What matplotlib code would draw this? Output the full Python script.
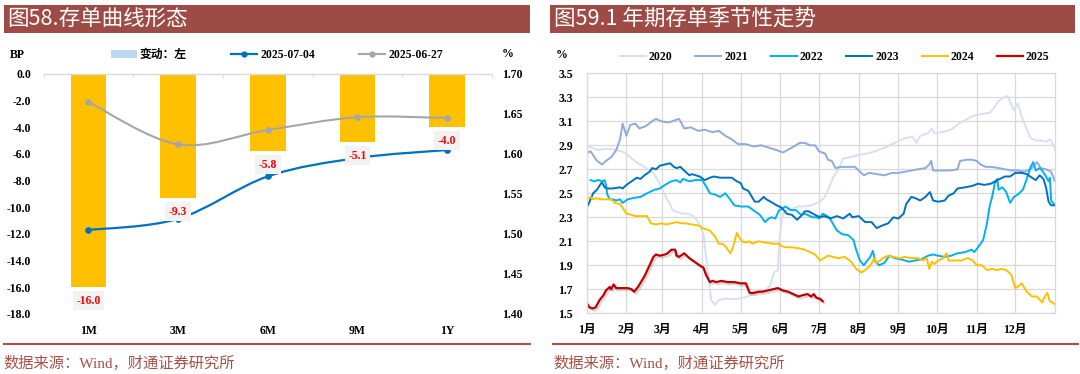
import matplotlib.pyplot as plt
from matplotlib.path import Path
from matplotlib.patches import PathPatch, Rectangle, Patch
from matplotlib.lines import Line2D
import matplotlib.patheffects as pe

plt.rcParams['font.family'] = ['Liberation Serif', 'Noto Sans CJK SC']

# ---- left panel: NCD curve ----
tenors = ['1M', '3M', '6M', '9M', '1Y']
change_bp = [-16.0, -9.3, -5.8, -5.1, -4.0]
rate_0704 = [1.505, 1.519, 1.572, 1.595, 1.605]
rate_0627 = [1.665, 1.612, 1.630, 1.646, 1.645]

# ---- right panel: 1Y NCD seasonality (day of year, %) ----
month_labels = ['1月', '2月', '3月', '4月', '5月', '6月', '7月', '8月', '9月', '10月', '11月', '12月']
month_starts = [0, 31, 59, 90, 120, 151, 181, 212, 243, 273, 304, 334]

days_2020 = [0, 4, 9, 14, 19, 23, 27, 31, 35, 40, 45, 49, 52, 56, 60, 63, 65, 67, 71, 75, 79, 83, 87, 91, 93, 95, 97,
             100, 103, 107, 112, 117, 123, 127, 133, 139, 143, 146, 149, 150, 152, 153, 156, 160, 165, 170, 175, 180,
             185, 189, 192, 196, 200, 205, 212, 218, 225, 232, 240, 248, 254, 257, 260, 266, 269, 271, 277, 284, 290,
             295, 300, 307, 314, 318, 321, 325, 328, 330, 333, 336, 339, 343, 346, 350, 354, 358, 361, 363, 365]
vals_2020 = [2.90, 2.88, 2.86, 2.87, 2.87, 2.86, 2.85, 2.83, 2.79, 2.75, 2.72, 2.69, 2.67, 2.60, 2.51, 2.44, 2.41, 2.36,
             2.34, 2.33, 2.33, 2.31, 2.26, 2.16, 1.97, 1.80, 1.61, 1.57, 1.61, 1.62, 1.62, 1.62, 1.63, 1.65, 1.67, 1.69,
             1.73, 1.84, 1.86, 2.08, 2.28, 2.33, 2.36, 2.37, 2.39, 2.39, 2.40, 2.42, 2.46, 2.55, 2.63, 2.70, 2.79, 2.80,
             2.82, 2.83, 2.85, 2.88, 2.92, 2.96, 2.97, 2.92, 2.98, 3.00, 3.04, 3.00, 3.01, 3.03, 3.08, 3.11, 3.14, 3.16,
             3.17, 3.22, 3.27, 3.30, 3.31, 3.26, 3.19, 3.25, 3.14, 3.03, 2.96, 2.94, 2.94, 2.93, 2.95, 2.92, 2.86]

days_2021 = [1, 3, 8, 12, 15, 19, 23, 26, 28, 31, 34, 38, 41, 46, 51, 54, 58, 64, 69, 72, 76, 81, 87, 92, 98, 103, 108,
             113, 118, 124, 130, 136, 142, 148, 153, 158, 163, 166, 170, 174, 178, 181, 186, 188, 191, 194, 198, 204,
             209, 212, 216, 220, 226, 232, 238, 243, 248, 253, 258, 264, 267, 268.5, 270, 276, 283, 289, 291, 296, 300,
             304, 307, 311, 316, 321, 326, 331, 336, 341, 346, 351, 354, 358, 362, 365]
vals_2021 = [2.84, 2.85, 2.77, 2.74, 2.77, 2.80, 2.86, 2.95, 3.08, 2.98, 3.07, 3.08, 3.04, 3.06, 3.10, 3.12, 3.10, 3.09,
             3.11, 3.12, 3.04, 3.05, 3.02, 3.03, 3.01, 3.02, 2.98, 2.95, 2.91, 2.91, 2.89, 2.90, 2.88, 2.86, 2.84, 2.87,
             2.90, 2.92, 2.92, 2.90, 2.90, 2.85, 2.83, 2.78, 2.77, 2.71, 2.72, 2.72, 2.72, 2.69, 2.65, 2.67, 2.66, 2.65,
             2.67, 2.67, 2.68, 2.69, 2.70, 2.71, 2.74, 2.77, 2.69, 2.69, 2.69, 2.70, 2.77, 2.78, 2.78, 2.77, 2.74, 2.72,
             2.72, 2.71, 2.70, 2.69, 2.69, 2.68, 2.70, 2.76, 2.71, 2.70, 2.68, 2.60]

days_2022 = [3, 6, 9, 12, 14, 15, 16, 18, 20, 23, 26, 28, 32, 36, 42, 47, 53, 57, 61, 66, 70, 73, 75, 80, 85, 90, 93, 96,
             100, 104, 108, 111, 115, 120, 126, 131, 135, 139, 142, 144, 147, 150, 152, 155, 159, 163, 167, 170, 174,
             176, 179, 181, 184, 189, 195, 199, 204, 208, 210, 213, 216, 218, 221, 223, 225, 228, 232, 236, 240, 245,
             251, 256, 261, 266, 270, 274, 279, 284, 289, 295, 300, 302, 305, 309, 312, 314, 316, 318, 320, 321, 324,
             327, 330, 333, 336, 340, 343, 346, 348, 350, 353, 355, 358, 360, 361, 362, 365]
vals_2022 = [2.61, 2.60, 2.61, 2.60, 2.61, 2.57, 2.49, 2.45, 2.45, 2.44, 2.45, 2.42, 2.45, 2.46, 2.47, 2.50, 2.53, 2.54,
             2.57, 2.60, 2.61, 2.59, 2.62, 2.60, 2.61, 2.61, 2.56, 2.50, 2.49, 2.47, 2.50, 2.46, 2.40, 2.39, 2.39, 2.35,
             2.32, 2.26, 2.29, 2.30, 2.29, 2.36, 2.37, 2.39, 2.36, 2.36, 2.32, 2.33, 2.31, 2.30, 2.30, 2.29, 2.33, 2.30,
             2.19, 2.16, 2.15, 2.11, 2.03, 1.94, 1.90, 1.93, 1.97, 2.02, 1.93, 1.90, 1.92, 1.98, 1.96, 1.95, 1.93, 1.94,
             1.95, 1.98, 1.99, 1.98, 1.97, 1.98, 2.00, 2.01, 2.03, 2.01, 2.05, 2.11, 2.25, 2.39, 2.47, 2.58, 2.62, 2.53,
             2.55, 2.51, 2.42, 2.47, 2.49, 2.53, 2.62, 2.72, 2.76, 2.69, 2.71, 2.69, 2.64, 2.60, 2.63, 2.44, 2.40]

days_2023 = [1, 3, 5, 8, 11, 12, 14, 16, 20, 26, 28, 31, 35, 39, 42, 45, 49, 51, 54, 57, 61, 65, 68, 70, 73, 77, 80, 82,
             88, 92, 96, 99, 104, 110, 113, 117, 120, 122, 126, 131, 134, 138, 140, 145, 148, 152, 156, 160, 164, 167,
             170, 173, 178, 182, 185, 190, 195, 200, 205, 207, 212, 217, 222, 226, 230, 235, 239, 243, 247, 249, 253,
             256, 260, 264, 267.5, 270, 274, 279, 282, 286, 289, 295, 300, 305, 310, 315, 320, 326, 330, 334, 339, 343,
             347, 350, 353, 356, 358, 360, 362, 365]
vals_2023 = [2.40, 2.45, 2.50, 2.53, 2.58, 2.59, 2.55, 2.54, 2.54, 2.55, 2.54, 2.57, 2.60, 2.63, 2.62, 2.65, 2.68, 2.71,
             2.70, 2.73, 2.74, 2.75, 2.72, 2.71, 2.72, 2.68, 2.65, 2.66, 2.64, 2.61, 2.63, 2.64, 2.63, 2.63, 2.63, 2.60,
             2.585, 2.54, 2.52, 2.43, 2.43, 2.47, 2.45, 2.42, 2.40, 2.38, 2.33, 2.32, 2.28, 2.31, 2.35, 2.35, 2.32, 2.30,
             2.31, 2.29, 2.31, 2.29, 2.33, 2.30, 2.31, 2.26, 2.26, 2.21, 2.23, 2.25, 2.30, 2.29, 2.33, 2.41, 2.47, 2.46,
             2.44, 2.47, 2.51, 2.44, 2.43, 2.44, 2.48, 2.50, 2.54, 2.55, 2.56, 2.58, 2.57, 2.58, 2.61, 2.64, 2.64, 2.67,
             2.67, 2.66, 2.63, 2.61, 2.65, 2.62, 2.55, 2.43, 2.40, 2.40]

days_2024 = [0, 3, 5, 7, 11, 15, 19, 22, 26, 28, 31, 35, 38, 42, 47, 50, 54, 58, 62, 66, 70, 74, 77, 82, 88, 90, 93, 96,
             100, 103, 106, 108, 112, 114, 117, 119, 121, 124, 127, 129, 134, 139, 145, 150, 152, 155, 160, 166, 170,
             174, 178, 182, 185, 188, 192, 196, 201, 206, 210, 214, 217, 221, 223, 224, 226, 231, 235, 239, 244, 248,
             253, 258, 262, 265, 267, 269, 271, 274, 278, 280.5, 282, 286, 292, 297, 301, 304, 308, 312, 316, 320, 323,
             327, 331, 334, 336, 339, 343, 347, 351, 355, 357, 359, 361, 363, 365]
vals_2024 = [2.45, 2.47, 2.45, 2.46, 2.45, 2.45, 2.45, 2.42, 2.41, 2.38, 2.33, 2.32, 2.31, 2.31, 2.31, 2.25, 2.24, 2.25,
             2.24, 2.25, 2.26, 2.25, 2.25, 2.24, 2.23, 2.21, 2.20, 2.19, 2.14, 2.08, 2.08, 2.06, 2.00, 2.05, 2.17, 2.13,
             2.10, 2.09, 2.10, 2.08, 2.10, 2.09, 2.08, 2.08, 2.06, 2.05, 2.05, 2.04, 2.03, 2.01, 1.99, 1.94, 1.96, 1.98,
             1.97, 1.96, 1.97, 1.93, 1.87, 1.84, 1.86, 1.90, 1.93, 1.96, 1.92, 1.96, 1.98, 1.97, 1.96, 1.97, 1.96, 1.96,
             1.94, 1.96, 1.87, 1.93, 1.91, 1.94, 1.96, 2.00, 1.94, 1.94, 1.94, 1.96, 1.94, 1.90, 1.90, 1.86, 1.87, 1.86,
             1.87, 1.86, 1.82, 1.71, 1.72, 1.75, 1.68, 1.64, 1.64, 1.59, 1.64, 1.67, 1.60, 1.59, 1.575]

days_2025 = [1, 2, 5, 7, 10, 13, 15, 18, 19, 21, 23, 27, 32, 35, 37, 40, 44, 46, 49, 52, 54, 57, 61, 63, 66, 69, 70, 72,
             76, 80, 84, 88, 91, 93, 96, 98, 101, 105, 110, 115, 120, 124, 127, 130, 134, 137, 141, 145, 149, 153, 157,
             161, 165, 168, 172, 175, 177, 179, 182, 184]
vals_2025 = [1.57, 1.55, 1.54, 1.55, 1.61, 1.65, 1.69, 1.72, 1.70, 1.74, 1.71, 1.71, 1.71, 1.70, 1.68, 1.72, 1.79, 1.83,
             1.90, 1.97, 1.99, 1.98, 1.99, 2.00, 2.03, 2.03, 1.98, 1.97, 2.00, 1.96, 1.93, 1.90, 1.88, 1.82, 1.76, 1.77,
             1.76, 1.77, 1.76, 1.76, 1.75, 1.75, 1.67, 1.67, 1.68, 1.68, 1.69, 1.70, 1.71, 1.69, 1.68, 1.66, 1.64, 1.65,
             1.66, 1.64, 1.66, 1.63, 1.62, 1.60]

BAR_RED = '#9E4B45'
SRC_RED = '#A65149'
GRID = '#D9D9D9'
W, H = 1080, 374


def fx(px):
    return px / W


def fy(py):
    return 1 - py / H


def smooth_path(xs, ys):
    # excel style smoothed line: catmull-rom turned into cubic beziers
    pts = list(zip(xs, ys))
    verts = [pts[0]]
    codes = [Path.MOVETO]
    for i in range(len(pts) - 1):
        p0 = pts[i - 1] if i > 0 else pts[i]
        p1 = pts[i]
        p2 = pts[i + 1]
        p3 = pts[i + 2] if i + 2 < len(pts) else p2
        c1 = (p1[0] + (p2[0] - p0[0]) / 6, p1[1] + (p2[1] - p0[1]) / 6)
        c2 = (p2[0] - (p3[0] - p1[0]) / 6, p2[1] - (p3[1] - p1[1]) / 6)
        verts += [c1, c2, p2]
        codes += [Path.CURVE4] * 3
    return Path(verts, codes)


def draw_header(fig, x0, x1, title):
    fig.add_artist(Rectangle((fx(x0), fy(33)), fx(x1 - x0), 28 / H, transform=fig.transFigure,
                             fc=BAR_RED, ec='none'))
    fig.text(fx(x0 + 4), fy(19), title, color='white', fontsize=15.5, va='center',
             family=['Noto Sans CJK SC'])


def draw_footer(fig, x0, x1):
    fig.add_artist(Line2D([fx(x0), fx(x1)], [fy(344), fy(344)], transform=fig.transFigure,
                          color=SRC_RED, lw=1.5))
    fig.text(fx(x0), fy(363), '数据来源：Wind，财通证券研究所', color=SRC_RED, fontsize=11, va='center')


def draw_curve_panel(fig):
    ax = fig.add_axes([fx(43.6), fy(314), fx(448.4), 240 / H])
    x = list(range(len(tenors)))
    ax.bar(x, change_bp, width=0.4, color='#FFC000', zorder=2)
    ax.set_xlim(-0.5, len(tenors) - 0.5)
    ax.set_ylim(-18, 0)
    ax.set_yticks(list(range(-18, 1, 2)))
    ax.set_yticklabels(['%.1f' % v for v in range(-18, 1, 2)])
    ax.set_xticks(x)
    ax.set_xticklabels(tenors)
    ax.set_xticks([i - 0.5 for i in range(len(tenors) + 1)], minor=True)
    for s in ['left', 'right', 'bottom']:
        ax.spines[s].set_visible(False)
    ax.spines['top'].set_color(GRID)
    ax.spines['top'].set_linewidth(1.0)
    ax.tick_params(axis='x', which='major', length=0, pad=8, labelsize=8.5)
    ax.tick_params(axis='x', which='minor', top=True, bottom=False, direction='in', length=3, color=GRID)
    ax.tick_params(axis='y', length=0, pad=9, labelsize=8.5)
    for lab in ax.get_xticklabels() + ax.get_yticklabels():
        lab.set_fontweight('bold')

    ax2 = ax.twinx()
    ax2.set_ylim(1.40, 1.70)
    rticks = [1.40, 1.45, 1.50, 1.55, 1.60, 1.65, 1.70]
    ax2.set_yticks(rticks)
    ax2.set_yticklabels(['%.2f' % v for v in rticks])
    ax2.tick_params(axis='y', length=0, pad=7, labelsize=8.5)
    for lab in ax2.get_yticklabels():
        lab.set_fontweight('bold')
    for s in ax2.spines.values():
        s.set_visible(False)

    ax2.add_patch(PathPatch(smooth_path(x, rate_0627), fill=False, ec='#A6A6A6', lw=1.5))
    ax2.plot(x, rate_0627, 'o', color='#A6A6A6', ms=3.8)
    ax2.add_patch(PathPatch(smooth_path(x, rate_0704), fill=False, ec='#0070C0', lw=1.6))
    ax2.plot(x, rate_0704, 'o', color='#0070C0', ms=3.8)

    for i, v in enumerate(change_bp):
        ax2.annotate('%.1f' % v, xy=(i, v), xycoords=ax.transData, xytext=(0, -9.8), textcoords='offset points',
                     ha='center', va='center', color='#FF0000', fontsize=8.5, fontweight='bold',
                     bbox=dict(boxstyle='square,pad=0.3', fc='#F2F2F2', ec='none'))

    handles = [Patch(fc='#BDD7EE', ec='none'),
               Line2D([], [], color='#0070C0', lw=1.6, marker='o', ms=3.5),
               Line2D([], [], color='#A6A6A6', lw=1.5, marker='o', ms=3.5)]
    fig.legend(handles, ['变动：左', '2025-07-04', '2025-06-27'], loc='center left',
               bbox_to_anchor=(fx(111), fy(55)), ncol=3, frameon=False, borderpad=0, borderaxespad=0,
               handlelength=2.2, handletextpad=0.25, columnspacing=3.75, prop={'weight': 'bold', 'size': 8.5})
    fig.text(fx(10), fy(55), 'BP', fontsize=8.5, fontweight='bold', va='center')
    fig.text(fx(502), fy(54), '%', fontsize=8.5, fontweight='bold', va='center')


def draw_seasonal_panel(fig):
    bx = fig.add_axes([fx(586.7), fy(313.3), fx(468.3), 240 / H])
    series = [(days_2020, vals_2020, '#D6E0F2', '2020'),
              (days_2021, vals_2021, '#8FAADC', '2021'),
              (days_2022, vals_2022, '#00B0F0', '2022'),
              (days_2023, vals_2023, '#0070C0', '2023'),
              (days_2024, vals_2024, '#FFC000', '2024')]
    for days, vals, color, label in series:
        bx.plot(days, vals, color=color, lw=1.4, label=label)
    bx.plot(days_2025, vals_2025, color='#C00000', lw=1.6,
            path_effects=[pe.SimpleLineShadow(offset=(1.2, -1.5), shadow_color='#404040', alpha=0.2), pe.Normal()])

    bx.set_xlim(0, 365)
    bx.set_ylim(1.5, 3.5)
    bx.set_xticks(month_starts)
    bx.set_xticklabels(month_labels)
    yt = [1.5 + 0.2 * i for i in range(11)]
    bx.set_yticks(yt)
    bx.set_yticklabels(['%.1f' % v for v in yt])
    bx.grid(True, color=GRID, lw=0.9)
    bx.set_axisbelow(True)
    for s in bx.spines.values():
        s.set_color(GRID)
        s.set_linewidth(0.9)
    bx.tick_params(axis='x', length=0, pad=8, labelsize=8.5)
    bx.tick_params(axis='y', length=0, pad=10, labelsize=8.5)
    for lab in bx.get_xticklabels() + bx.get_yticklabels():
        lab.set_fontweight('bold')

    handles, labels = bx.get_legend_handles_labels()
    handles.append(Line2D([], [], color='#C00000', lw=1.6))
    labels.append('2025')
    fig.legend(handles, labels, loc='center left', bbox_to_anchor=(fx(619.6), fy(57)),
               ncol=6, frameon=False, borderpad=0, borderaxespad=0, handlelength=2.2, handletextpad=0.25,
               columnspacing=1.94, prop={'weight': 'bold', 'size': 8.5})
    fig.text(fx(556), fy(55), '%', fontsize=8.5, fontweight='bold', va='center')


fig = plt.figure(figsize=(10.8, 3.74), dpi=100)
draw_header(fig, 3.5, 530, '图58.存单曲线形态')
draw_header(fig, 550, 1075, '图59.1 年期存单季节性走势')
draw_curve_panel(fig)
draw_seasonal_panel(fig)
draw_footer(fig, 3.5, 530)
draw_footer(fig, 553, 1078)
fig.savefig('out.png', dpi=100)
